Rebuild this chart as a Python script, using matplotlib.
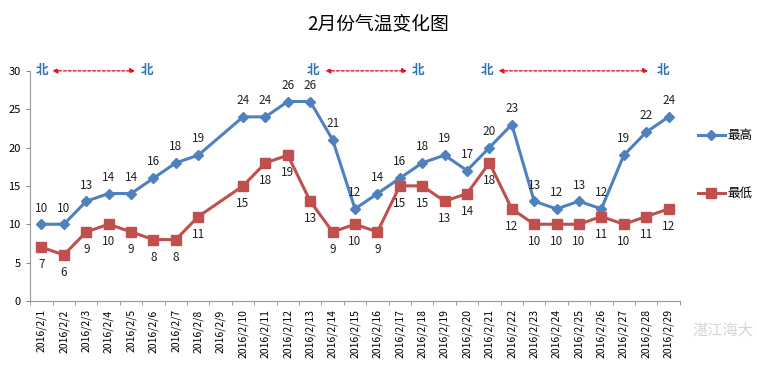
import matplotlib
matplotlib.use('Agg')
import matplotlib.pyplot as plt
import numpy as np

plt.rcParams['font.family'] = ['Noto Sans CJK SC', 'DejaVu Sans']

dates = ['2016/2/%d' % d for d in range(1, 30)]
# 2/9 has no record
high = [10, 10, 13, 14, 14, 16, 18, 19, None, 24, 24, 26, 26, 21, 12, 14, 16, 18, 19, 17,
        20, 23, 13, 12, 13, 12, 19, 22, 24]
low = [7, 6, 9, 10, 9, 8, 8, 11, None, 15, 18, 19, 13, 9, 10, 9, 15, 15, 13, 14,
       18, 12, 10, 10, 10, 11, 10, 11, 12]

# north wind periods: (label x start, arrow start, arrow end, label x end)
north_spans = [(0.04, 0.48, 4.19, 4.72), (12.13, 12.67, 16.33, 16.82), (19.9, 20.4, 27.1, 27.76)]

blue = '#4F81BD'
red = '#C0504D'

fig = plt.figure(figsize=(7.57, 3.67), dpi=100)
ax = fig.add_axes([0.04, 0.18, 0.858, 0.627])

xh = [i for i, v in enumerate(high) if v is not None]
yh = [v for v in high if v is not None]
xl = [i for i, v in enumerate(low) if v is not None]
yl = [v for v in low if v is not None]

ax.plot(xh, yh, color=blue, lw=2.2, marker='D', ms=5.5, label='最高', zorder=3)
ax.plot(xl, yl, color=red, lw=2.2, marker='s', ms=7, label='最低', zorder=3)

for x, y in zip(xh, yh):
    ax.annotate(str(y), (x, y), xytext=(0, 7), textcoords='offset points',
                ha='center', va='bottom', fontsize=8.5, color='#222222')
for x, y in zip(xl, yl):
    ax.annotate(str(y), (x, y), xytext=(0, -8), textcoords='offset points',
                ha='center', va='top', fontsize=8.5, color='#222222')

for a, s, e, b in north_spans:
    ax.text(a, 30, '北', color='#2E75B6', fontsize=9, fontweight='bold',
            ha='center', va='center', clip_on=False)
    ax.text(b, 30, '北', color='#2E75B6', fontsize=9, fontweight='bold',
            ha='center', va='center', clip_on=False)
    ax.annotate('', xy=(e, 30), xytext=(s, 30),
                arrowprops=dict(arrowstyle='<|-|>', color='#E8141B', lw=1,
                                linestyle=(0, (2, 1.5)), mutation_scale=7,
                                shrinkA=0, shrinkB=0),
                annotation_clip=False)

ax.set_xlim(-0.5, len(dates) - 0.5)
ax.set_ylim(0, 30)
ax.set_yticks(np.arange(0, 31, 5))
ax.tick_params(axis='y', labelsize=8, length=3, color='#888888', pad=4)
ax.set_xticks(range(len(dates)))
ax.set_xticklabels(dates, rotation=90, fontsize=7.5)
ax.set_xticks(np.arange(-0.5, len(dates), 1), minor=True)
ax.tick_params(axis='x', which='major', length=0, pad=6)
ax.tick_params(axis='x', which='minor', length=3, color='#888888')

for side in ['top', 'right']:
    ax.spines[side].set_visible(False)
for side in ['left', 'bottom']:
    ax.spines[side].set_color('#999999')

fig.text(0.5, 0.935, '2月份气温变化图', ha='center', va='center', fontsize=13.5,
         fontweight='medium')

ax.legend(loc='upper left', bbox_to_anchor=(1.01, 0.795), frameon=False,
          fontsize=9, handlelength=2.2, labelspacing=3.6, handletextpad=0.2)

# watermark
fig.text(0.955, 0.1, '湛江海大', fontsize=11, color='#bbbbbb', alpha=0.6,
         ha='center', va='center')

fig.savefig('out.png', dpi=100)
plt.close(fig)
